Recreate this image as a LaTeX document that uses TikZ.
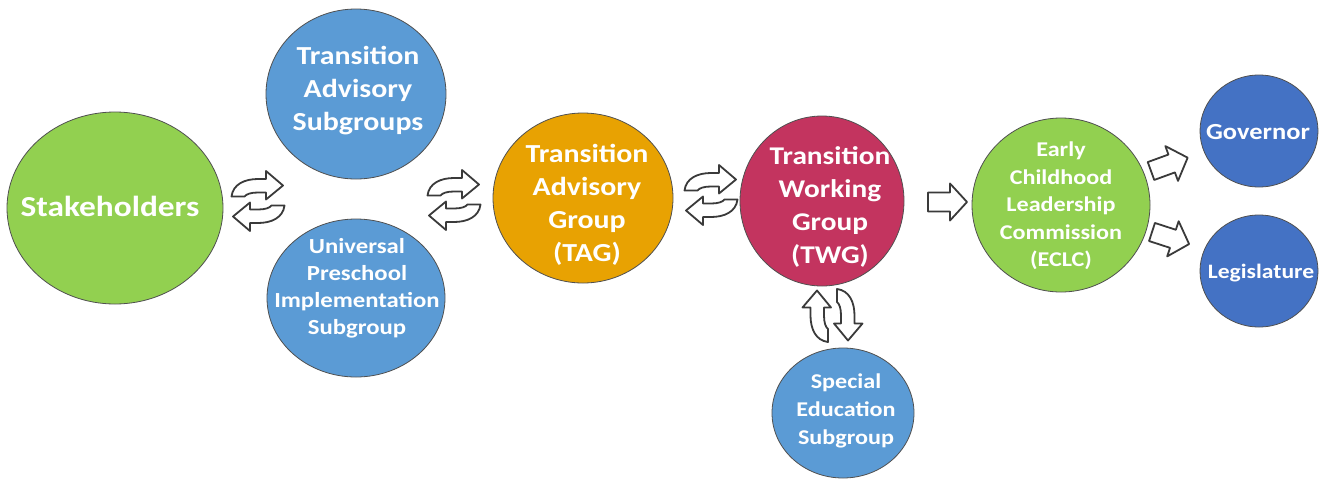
\documentclass[tikz,border=0pt]{standalone}
\usepackage{fontspec}
\setmainfont[FakeStretch=1.15]{Carlito}
\usetikzlibrary{shapes.geometric,calc}
\definecolor{cgreen}{HTML}{92D050}
\definecolor{cblue}{HTML}{5B9BD5}
\definecolor{corange}{HTML}{E8A202}
\definecolor{cred}{HTML}{C3345F}
\definecolor{cdblue}{HTML}{4472C4}
\definecolor{cline}{HTML}{505050}
\definecolor{carrow}{HTML}{3A3A3A}
\tikzset{
  bub/.style={ellipse, draw=cline, line width=0.8pt, inner sep=0pt},
  txt/.style={text=white, align=center, font=\bfseries},
  arr/.style={fill=white, draw=carrow, line width=1.8pt, line join=round},
  cycpair/.pic={
    \path[arr] (-26.5,-4.5) .. controls (-25,-17) and (-13,-22) .. (0,-22) -- (8,-22) -- (8,-30) -- (25,-15.5) -- (8,-1.5) -- (8,-8.5) -- (0,-8.5) .. controls (-7,-8.5) and (-11.5,-7) .. (-13.5,-4.5) -- cycle;
    \begin{scope}[rotate=180]
    \path[arr] (-26.5,-4.5) .. controls (-25,-17) and (-13,-22) .. (0,-22) -- (8,-22) -- (8,-30) -- (25,-15.5) -- (8,-1.5) -- (8,-8.5) -- (0,-8.5) .. controls (-7,-8.5) and (-11.5,-7) .. (-13.5,-4.5) -- cycle;
    \end{scope}
  },
  blockarrow/.pic={
    \path[arr] (0,-9.5) -- (22,-9.5) -- (22,-18.5) -- (39,0) -- (22,18.5) -- (22,9.5) -- (0,9.5) -- cycle;
  },
}
\begin{document}
\begin{tikzpicture}[x=1pt,y=-1pt]
\useasboundingbox[fill=white] (0,0) rectangle (1320,480);

% bubbles
\node[bub, fill=cgreen, minimum width=216pt, minimum height=192pt] (stake) at (115,208) {};
\node[txt, font=\bfseries\fontsize{29}{33}\selectfont] (staket) at (110,206) {Stakeholders};

\node[bub, fill=cblue, minimum width=180pt, minimum height=170pt] (tas) at (356,94) {};
\node[txt, font=\bfseries\fontsize{26}{33}\selectfont] (tast) at (358,91) {Transition\\Advisory\\Subgroups};

\node[bub, fill=cblue, minimum width=178pt, minimum height=158pt] (ups) at (356,298) {};
\node[txt, font=\bfseries\fontsize{21.5}{27}\selectfont] (upst) at (357,288) {Universal\\Preschool\\Implementation\\Subgroup};

\node[bub, fill=corange, minimum width=180pt, minimum height=170pt] (tag) at (583,198) {};
\node[txt, font=\bfseries\fontsize{26}{33}\selectfont] (tagt) at (587,205) {Transition\\Advisory\\Group\\(TAG)};

\node[bub, fill=cred, minimum width=164pt, minimum height=170pt] (twg) at (822,201) {};
\node[txt, font=\bfseries\fontsize{25.5}{33}\selectfont] (twgt) at (830,207) {Transition\\Working\\Group\\(TWG)};

\node[bub, fill=cblue, minimum width=142pt, minimum height=130pt] (sped) at (843,413) {};
\node[txt, font=\bfseries\fontsize{21}{28}\selectfont] (spedt) at (846,411) {Special\\Education\\Subgroup};

\node[bub, fill=cgreen, minimum width=178pt, minimum height=174pt] (eclc) at (1061,205) {};
\node[txt, font=\bfseries\fontsize{21}{27.5}\selectfont] (eclct) at (1061,206) {Early\\Childhood\\Leadership\\Commission\\(ECLC)};

\node[bub, fill=cdblue, minimum width=118pt, minimum height=112pt] (gov) at (1259,131) {};
\node[txt, font=\bfseries\fontsize{23}{26}\selectfont] (govt) at (1258,132) {Governor};

\node[bub, fill=cdblue, minimum width=118pt, minimum height=112pt] (leg) at (1259,271) {};
\node[txt, font=\bfseries\fontsize{20.5}{26}\selectfont] (legt) at (1261,273) {Legislature};

% connectors (block arrows)
\pic at (258,201) {cycpair};
\pic at (454,200) {cycpair};
\pic at (711,195) {cycpair};
\pic[rotate=90] at (832.5,315.5) {cycpair};
\pic at (928,202) {blockarrow};
\pic[rotate=20] at (1151,171) {blockarrow};
\pic[rotate=-18] at (1152,232) {blockarrow};
\end{tikzpicture}
\end{document}
